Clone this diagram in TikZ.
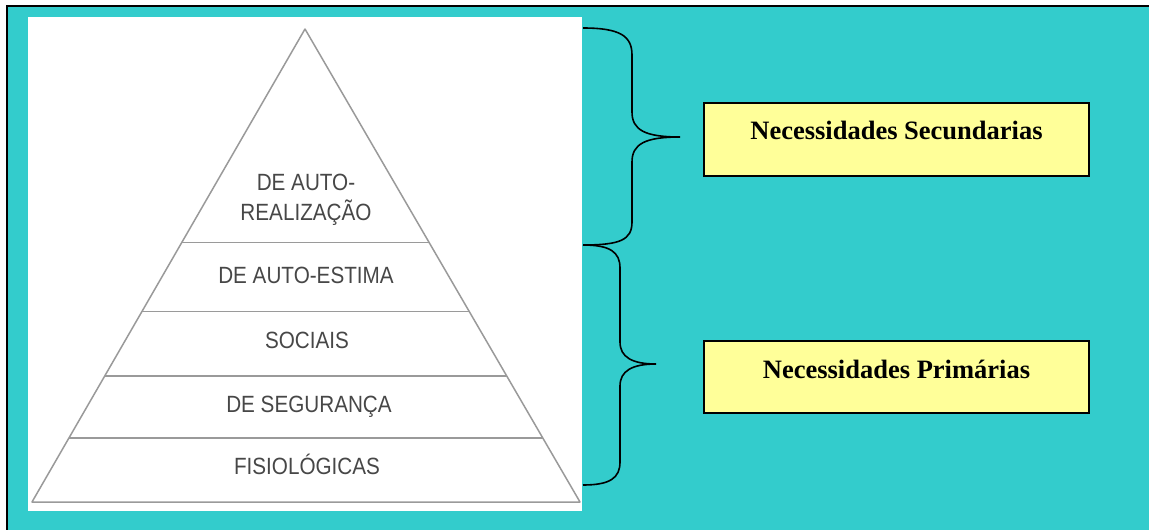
\documentclass[tikz,border=0pt]{standalone}
\usepackage{fontspec}
\setmainfont{Liberation Serif}
\newfontfamily\pyrfont[FakeStretch=0.88]{Liberation Sans}
\usepackage{tikz}
\usetikzlibrary{positioning, calc}

\definecolor{fundo}{HTML}{33CCCC}
\definecolor{caixa}{HTML}{FFFF99}
\definecolor{tinta}{HTML}{474747}
\definecolor{traco}{HTML}{9A9A9A}

\tikzset{
  nivel/.style={anchor=base, text=tinta, font=\pyrfont\fontsize{23.5}{30}\selectfont, align=center},
  degrau/.style={draw=traco, line width=1.5pt},
  chave/.style={draw=black, line width=1.6pt},
  necbox/.style={draw=black, line width=2pt, fill=caixa, inner sep=0pt, minimum width=385pt,
    font=\bfseries\fontsize{26.5}{30}\selectfont}
}

\begin{document}
\begin{tikzpicture}[x=1pt,y=-1pt]
\useasboundingbox (0,0) rectangle (1149,530);
\fill[white] (0,0) rectangle (1149,530);
\fill[fundo] (7,6) rectangle (1160,540);
\draw[line width=2.5pt] (7,540) -- (7,6) -- (1160,6);
\fill[white] (28,17) rectangle (582,511);
% piramide
\coordinate (apex) at (305,29);
\coordinate (baseL) at (32,502);
\coordinate (baseR) at (580,502);
\draw[degrau, line join=round] (apex) -- (baseL) -- (baseR) -- cycle;
\foreach \t in {0.4515,0.597,0.734,0.865}
  \draw[degrau] ($(apex)!\t!(baseL)$) -- ($(apex)!\t!(baseR)$);
\node[nivel] (AutoReal) at (306,220) {DE AUTO-\\REALIZAÇÃO};
\node[nivel] (AutoEst) at (306,283) {DE AUTO-ESTIMA};
\node[nivel] (Sociais) at (307,348) {SOCIAIS};
\node[nivel] (Seguranca) at (309,412) {DE SEGURANÇA};
\node[nivel] (Fisio) at (307,474) {FISIOLÓGICAS};
% chaves
\coordinate (SecTop) at (583,28);
\coordinate (SecTip) at (680,137);
\coordinate (SecBot) at (583,245);
\coordinate (PrimTop) at (583,245);
\coordinate (PrimTip) at (656,364);
\coordinate (PrimBot) at (583,485);
\draw[chave] (SecTop) .. controls (620,28) and (632,36) .. (632,55) -- (632,112)
  .. controls (632,130) and (645,137) .. (SecTip)
  .. controls (645,137) and (632,144) .. (632,162) -- (632,222)
  .. controls (632,240) and (620,245) .. (SecBot);
\draw[chave] (PrimTop) .. controls (610,245) and (620,252) .. (620,268) -- (620,342)
  .. controls (620,357) and (632,364) .. (PrimTip)
  .. controls (632,364) and (620,371) .. (620,386) -- (620,462)
  .. controls (620,478) and (610,485) .. (PrimBot);
% caixas
\node[necbox, text height=36pt, text depth=37pt, anchor=north west] (Sec) at (703,102) {Necessidades Secundarias};
\node[necbox, text height=37pt, text depth=35pt, anchor=north west] (Prim) at (703,340) {Necessidades Primárias};
\end{tikzpicture}
\end{document}
